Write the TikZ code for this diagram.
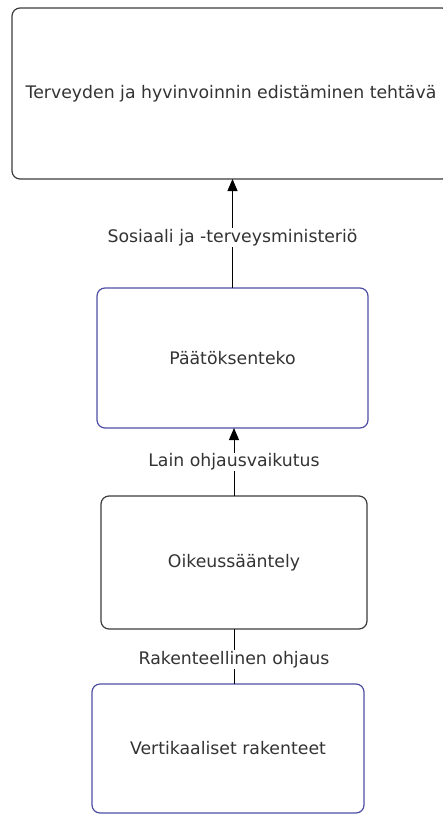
\documentclass[tikz,border=0pt]{standalone}
\usepackage{fontspec}
\setmainfont{DejaVu Sans}
\usetikzlibrary{arrows.meta}
\definecolor{boxgray}{HTML}{3C3C3C}
\definecolor{boxblue}{HTML}{4E4EA6}
\definecolor{txtgray}{HTML}{333333}
\tikzset{
  lvl/.style={draw=boxgray, line width=1.2pt, rounded corners=8pt,
    inner sep=0pt, outer sep=0pt, text=txtgray,
    font=\fontsize{17.3}{20}\selectfont},
  lvlblue/.style={lvl, draw=boxblue},
  lbl/.style={fill=white, text=txtgray, inner sep=1pt,
    font=\fontsize{17.3}{20}\selectfont},
  up/.style={-{Triangle[width=10pt,length=12pt]}, line width=0.9pt}
}
\begin{document}
\begin{tikzpicture}
    \def\x{1pt}
    \def\y{-1pt}
    \useasboundingbox (0*\x, 0*\y) rectangle (442*\x, 814*\y);
    \node[lvl, minimum width=438pt, minimum height=171pt] (B1) at (231*\x, 93.5*\y) {Terveyden ja hyvinvoinnin edistäminen tehtävä};
    \node[lvlblue, minimum width=271pt, minimum height=140pt] (B2) at (232.5*\x, 358*\y) {Päätöksenteko};
    \node[lvl, minimum width=266pt, minimum height=133pt] (B3) at (234*\x, 562.5*\y) {Oikeussääntely};
    \node[lvlblue, minimum width=272pt, minimum height=129pt] (B4) at (228*\x, 748.5*\y) {Vertikaaliset rakenteet};
    \path (B2.north) edge [up] node [lbl, pos=0.46] {Sosiaali ja -terveysministeriö} (B2.north |- B1.south);
    \path (B3.north) edge [up] node [lbl, pos=0.5] {Lain ohjausvaikutus} (B3.north |- B2.south);
    \path (B3.south) edge [line width=0.9pt] node [lbl, pos=0.55] {Rakenteellinen ohjaus} (B3.south |- B4.north);
  \end{tikzpicture}
\end{document}
